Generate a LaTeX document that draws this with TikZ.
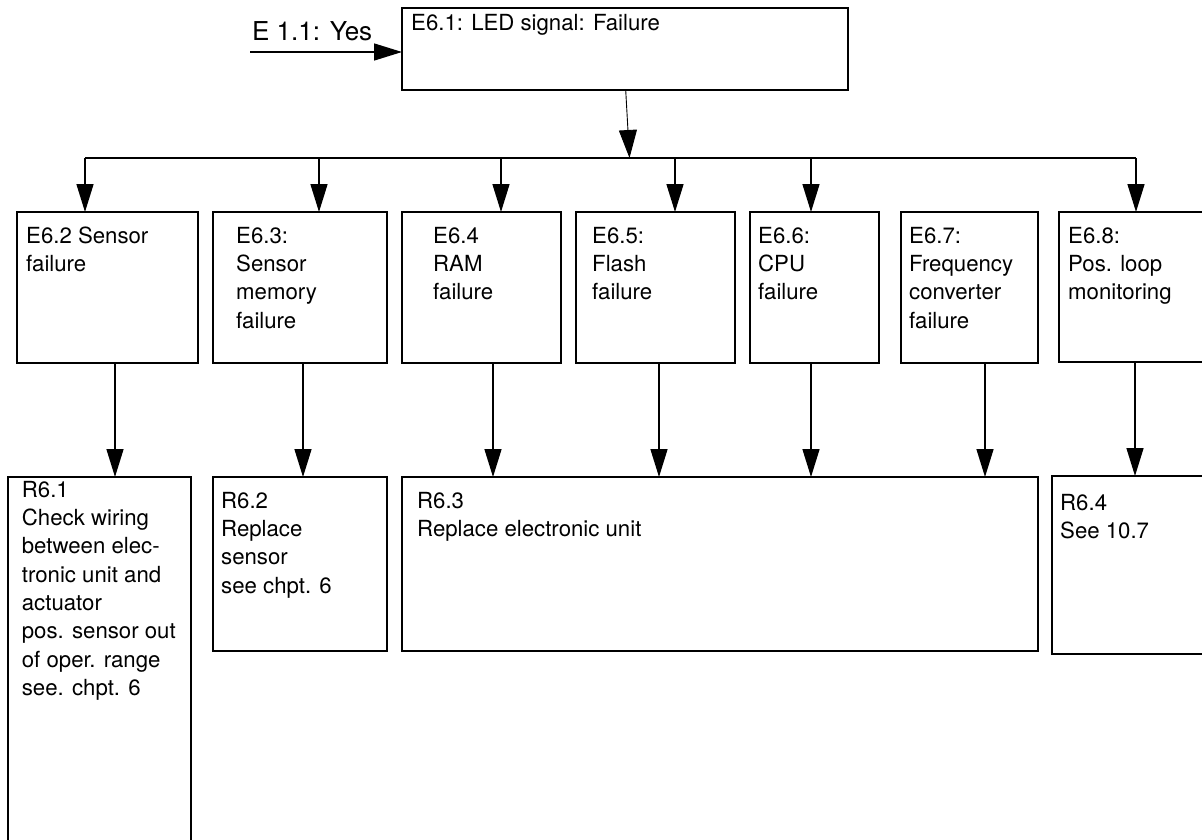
\documentclass[tikz,border=0pt]{standalone}
\usepackage{fontspec}
\setmainfont{TeX Gyre Heros}
\usetikzlibrary{arrows.meta}
\newcommand\mlines[1]{\begin{tabular}[t]{@{}l@{}}#1\end{tabular}}
\begin{document}
\begin{tikzpicture}[x=1pt,y=-1pt,
  box/.style={draw,line width=1.5pt,inner sep=0pt,outer sep=0pt,anchor=north west},
  txt/.style={inner sep=0pt,anchor=base west,font=\fontsize{22.2}{28.3}\selectfont},
  conn/.style={line width=1.5pt},
  arr/.style={line width=1.5pt,-{Triangle[length=28pt,width=17pt]}},
  arrthin/.style={line width=0.9pt,-{Triangle[length=28pt,width=18pt]}}]
\useasboundingbox (0,0) rectangle (1202,840);
\clip (0,0) rectangle (1202,840);
% top box
\node[box,minimum width=446pt,minimum height=82pt] (e61) at (402,8) {};
\node[txt] (t61) at (411,30.7) {E6.1: LED signal: Failure};
% entry arrow
\coordinate (ein) at (250,52);
\draw[arr] (ein) -- (ein -| e61.west);
\node[inner sep=0pt,anchor=base west,font=\fontsize{26}{30}\selectfont] (lyes) at (252,41) {E 1.1: Yes};
% row 1
\node[box,minimum width=181pt,minimum height=151pt] (e62) at (17,212) {};
\node[box,minimum width=174pt,minimum height=151pt] (e63) at (213,212) {};
\node[box,minimum width=159pt,minimum height=151pt] (e64) at (402,212) {};
\node[box,minimum width=159pt,minimum height=151pt] (e65) at (576,212) {};
\node[box,minimum width=129pt,minimum height=151pt] (e66) at (750,212) {};
\node[box,minimum width=137pt,minimum height=151pt] (e67) at (901,212) {};
\node[box,minimum width=160pt,minimum height=150pt] (e68) at (1059,212) {};
\node[txt] (t62) at (26,243.3) {\mlines{E6.2 Sensor\\failure}};
\node[txt] (t63) at (236,243.3) {\mlines{E6.3:\\Sensor\\memory\\failure}};
\node[txt] (t64) at (433,243.3) {\mlines{E6.4\\RAM\\failure}};
\node[txt] (t65) at (592,243.3) {\mlines{E6.5:\\Flash\\failure}};
\node[txt] (t66) at (758,243.3) {\mlines{E6.6:\\CPU\\failure}};
\node[txt] (t67) at (909,243.3) {\mlines{E6.7:\\Frequency\\converter\\failure}};
\node[txt] (t68) at (1068,243.3) {\mlines{E6.8:\\Pos. loop\\monitoring}};
% row 2
\node[box,minimum width=183pt,minimum height=380pt] (r61) at (8,477) {};
\node[box,minimum width=174pt,minimum height=174pt] (r62) at (213,477) {};
\node[box,minimum width=636pt,minimum height=174pt] (r63) at (402,477) {};
\node[box,minimum width=163pt,minimum height=178pt] (r64) at (1052,476) {};
\node[txt] (s61) at (21.7,497.3) {\mlines{R6.1\\Check wiring\\between elec-\\tronic unit and\\actuator\\pos. sensor out\\of oper. range\\see. chpt. 6}};
\node[txt] (s62) at (221,508.3) {\mlines{R6.2\\Replace\\sensor\\see chpt. 6}};
\node[txt] (s63) at (417,508.3) {\mlines{R6.3\\Replace electronic unit}};
\node[txt] (s64) at (1060,510) {\mlines{R6.4\\See 10.7}};
% distribution bar
\coordinate (b1) at (85,158);
\coordinate (b2) at (319,158);
\coordinate (b3) at (501,158);
\coordinate (bm) at (629.5,158);
\coordinate (b4) at (675,158);
\coordinate (b5) at (811,158);
\coordinate (b6) at (1136,158);
\draw[arrthin] (625.7,0 |- e61.south) -- (bm);
\draw[conn] (b1) -- (b6);
\draw[arr] (b1) -- (b1 |- e62.north);
\draw[arr] (b2) -- (b2 |- e63.north);
\draw[arr] (b3) -- (b3 |- e64.north);
\draw[arr] (b4) -- (b4 |- e65.north);
\draw[arr] (b5) -- (b5 |- e66.north);
\draw[arr] (b6) -- (b6 |- e68.north);
% down arrows
\draw[arr] (115,0 |- e62.south) -- (115,0 |- r61.north);
\draw[arr] (303,0 |- e63.south) -- (303,0 |- r62.north);
\draw[arr] (493,0 |- e64.south) -- (493,0 |- r63.north);
\draw[arr] (659,0 |- e65.south) -- (659,0 |- r63.north);
\draw[arr] (811,0 |- e66.south) -- (811,0 |- r63.north);
\draw[arr] (985,0 |- e67.south) -- (985,0 |- r63.north);
\draw[arr] (1135,0 |- e68.south) -- (1135,0 |- r64.north);
\end{tikzpicture}
\end{document}
